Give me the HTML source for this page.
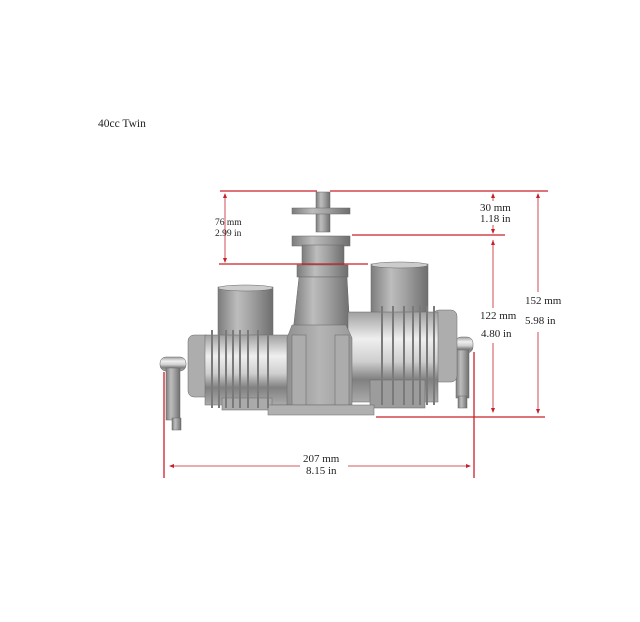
<!DOCTYPE html>
<html><head><meta charset="utf-8"><style>
html,body{margin:0;padding:0;background:#fff}
svg{display:block}
text{font-family:"Liberation Serif",serif;fill:#222}
</style></head><body>
<svg width="640" height="622" viewBox="0 0 640 622" xmlns="http://www.w3.org/2000/svg">
<defs>
<linearGradient id="gh" x1="0" x2="1" y1="0" y2="0">
<stop offset="0" stop-color="#7c7c7c"/><stop offset="0.35" stop-color="#bdbdbd"/><stop offset="0.6" stop-color="#a2a2a2"/><stop offset="1" stop-color="#6e6e6e"/></linearGradient>
<linearGradient id="gv" x1="0" x2="0" y1="0" y2="1">
<stop offset="0" stop-color="#a0a0a0"/><stop offset="0.3" stop-color="#efefef"/><stop offset="0.55" stop-color="#cfcfcf"/><stop offset="0.75" stop-color="#808080"/><stop offset="1" stop-color="#ababab"/></linearGradient>
<linearGradient id="gc" x1="0" x2="1" y1="0" y2="0">
<stop offset="0" stop-color="#909090"/><stop offset="0.5" stop-color="#b5b5b5"/><stop offset="1" stop-color="#9a9a9a"/></linearGradient>
</defs>
<text x="98" y="127" font-size="11.5">40cc Twin</text>

<g stroke="#666" stroke-width="0.5">
<rect x="160" y="357" width="26" height="14" rx="6" fill="url(#gv)"/>
<rect x="166" y="368" width="14" height="52" fill="url(#gh)"/>
<rect x="172" y="418" width="9" height="12" fill="url(#gh)"/>
<rect x="455" y="337" width="18" height="16" rx="6" fill="url(#gv)"/>
<rect x="456" y="350" width="13" height="48" fill="url(#gh)"/>
<rect x="458" y="396" width="9" height="12" fill="url(#gh)"/>
<rect x="218" y="287" width="55" height="55" fill="url(#gh)"/>
<ellipse cx="245.5" cy="288" rx="27.5" ry="3" fill="#ccc"/>
<rect x="371" y="264" width="57" height="55" fill="url(#gh)"/>
<ellipse cx="399.5" cy="265" rx="28.5" ry="3" fill="#ccc"/>
<rect x="316" y="192" width="14" height="40" fill="url(#gh)"/>
<rect x="292" y="208" width="58" height="6" fill="url(#gh)"/>
<rect x="292" y="236" width="58" height="10" fill="url(#gh)"/>
<rect x="302" y="245" width="42" height="20" fill="url(#gh)"/>
<rect x="297" y="265" width="51" height="12" fill="url(#gh)"/>
<path d="M299 277 L347 277 L350 332 L293 332 Z" fill="url(#gh)"/>
<rect x="188" y="335" width="24" height="62" rx="6" fill="#adadad"/>
<rect x="433" y="310" width="24" height="72" rx="6" fill="#adadad"/>
<rect x="205" y="335" width="90" height="70" fill="url(#gv)"/>
<rect x="348" y="312" width="90" height="90" fill="url(#gv)"/>
<rect x="222" y="398" width="50" height="12" fill="#aaa"/>
<rect x="370" y="380" width="55" height="28" fill="#9c9c9c"/>
<path d="M287 338 L292 325 L346 325 L352 338 L352 405 L287 405 Z" fill="url(#gc)"/>
<rect x="292" y="335" width="14" height="70" fill="#acacac"/>
<rect x="335" y="335" width="14" height="70" fill="#acacac"/>
<rect x="268" y="405" width="106" height="10" fill="#b0b0b0"/>
</g>
<g stroke="#7a7a7a" stroke-width="2">
<line x1="212" y1="330" x2="212" y2="408"/><line x1="219" y1="330" x2="219" y2="408"/>
<line x1="226" y1="330" x2="226" y2="408"/><line x1="233" y1="330" x2="233" y2="408"/>
<line x1="240" y1="330" x2="240" y2="408"/><line x1="248" y1="330" x2="248" y2="408"/>
<line x1="258" y1="330" x2="258" y2="408"/><line x1="268" y1="330" x2="268" y2="408"/>
<line x1="382" y1="306" x2="382" y2="405"/><line x1="393" y1="306" x2="393" y2="405"/>
<line x1="404" y1="306" x2="404" y2="405"/><line x1="413" y1="306" x2="413" y2="405"/>
<line x1="420" y1="306" x2="420" y2="405"/><line x1="427" y1="306" x2="427" y2="405"/>
<line x1="434" y1="306" x2="434" y2="405"/>
</g>

<g stroke="#c8202a" stroke-width="1.3" fill="none">
<line x1="220" y1="191" x2="317" y2="191"/>
<line x1="330" y1="191" x2="548" y2="191"/>
<line x1="352" y1="235" x2="505" y2="235"/>
<line x1="219" y1="264" x2="368" y2="264"/>
<line x1="376" y1="417" x2="545" y2="417"/>
<line x1="164" y1="372" x2="164" y2="478"/>
<line x1="474" y1="352" x2="474" y2="478"/>
</g>
<g stroke="#c8202a" stroke-width="0.8" fill="none">
<line x1="225" y1="194" x2="225" y2="262"/>
<line x1="493" y1="194" x2="493" y2="201"/>
<line x1="493" y1="225" x2="493" y2="233"/>
<line x1="493" y1="240" x2="493" y2="308"/>
<line x1="493" y1="343" x2="493" y2="412"/>
<line x1="538" y1="194" x2="538" y2="292"/>
<line x1="538" y1="332" x2="538" y2="413"/>
<line x1="170" y1="466" x2="300" y2="466"/>
<line x1="348" y1="466" x2="470" y2="466"/>
</g>
<g fill="#c8202a">
<path d="M225 193 l-2 5 h4z"/><path d="M225 263 l-2 -5 h4z"/>
<path d="M493 193 l-2 5 h4z"/><path d="M493 234 l-2 -5 h4z"/>
<path d="M493 240 l-2 5 h4z"/><path d="M493 413 l-2 -5 h4z"/>
<path d="M538 193 l-2 5 h4z"/><path d="M538 414 l-2 -5 h4z"/>
<path d="M169 466 l5 -2 v4z"/><path d="M471 466 l-5 -2 v4z"/>
</g>
<g font-size="11">
<text x="215" y="225" font-size="9.5">76 mm</text>
<text x="215" y="236" font-size="9.5">2.99 in</text>
<text x="480" y="211">30 mm</text>
<text x="480" y="222">1.18 in</text>
<text x="480" y="319">122 mm</text>
<text x="481" y="337">4.80 in</text>
<text x="525" y="304">152 mm</text>
<text x="525" y="324">5.98 in</text>
<text x="303" y="462">207 mm</text>
<text x="306" y="474">8.15 in</text>
</g>
</svg>
</body></html>
